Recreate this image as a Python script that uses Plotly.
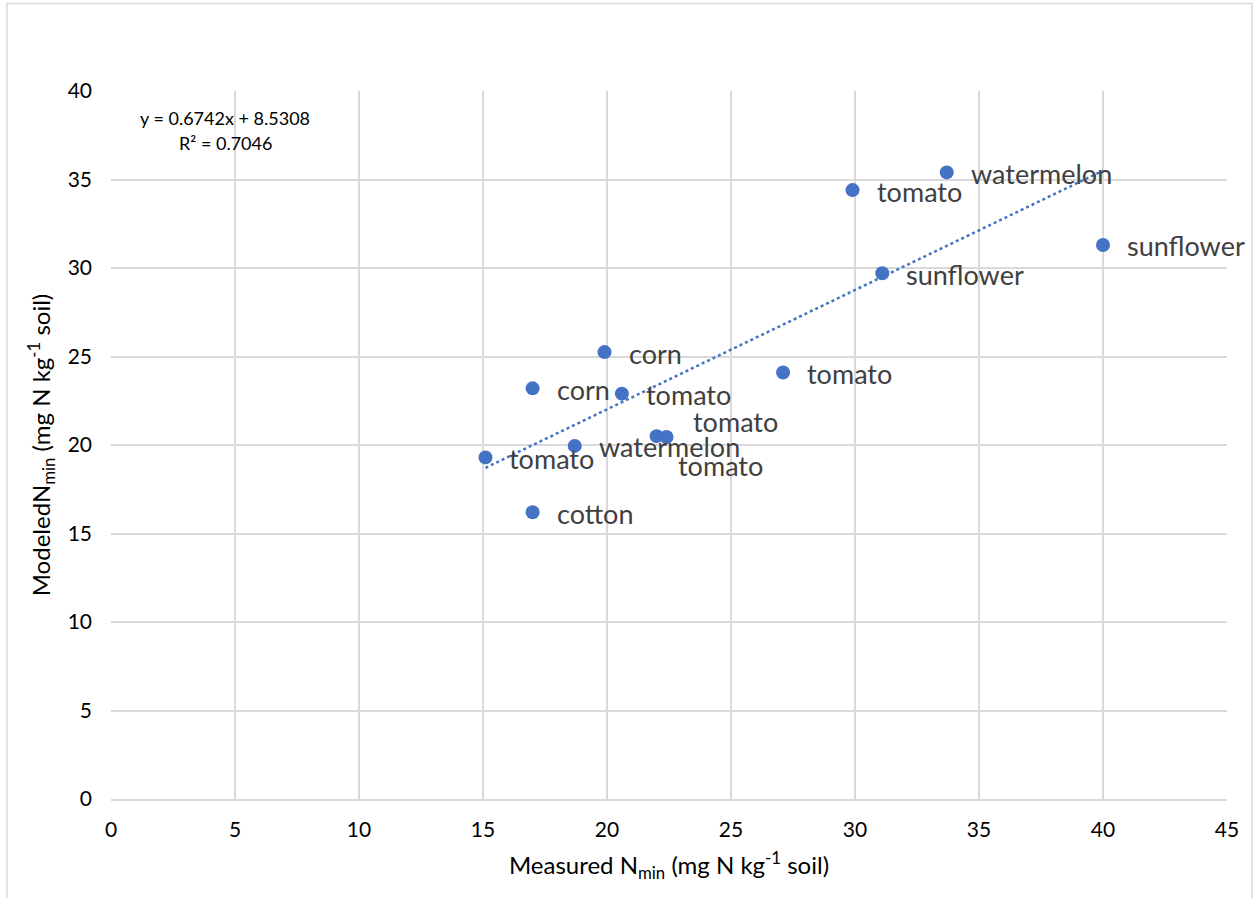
import plotly.graph_objects as go

# Data
measured = [33.7, 29.9, 40.0, 31.1, 19.9, 27.1, 17.0, 20.6, 22.0, 22.4, 18.7, 15.1, 17.0]
modeled = [35.4, 34.4, 31.3, 29.7, 25.25, 24.1, 23.2, 22.9, 20.5, 20.45, 19.95, 19.3, 16.2]
crops = ["watermelon", "tomato", "sunflower", "sunflower", "corn", "tomato", "corn",
         "tomato", "tomato", "tomato", "watermelon", "tomato", "cotton"]
slope = 0.6742
intercept = 8.5308
r2 = 0.7046
x_ticks = [0, 5, 10, 15, 20, 25, 30, 35, 40, 45]
y_ticks = [0, 5, 10, 15, 20, 25, 30, 35, 40]

FONT = "Lato"
BLUE = "#4472C4"
GRID = "#d9d9d9"

fig = go.Figure()

# trendline
x_min, x_max = min(measured), max(measured)
fig.add_trace(go.Scatter(
    x=[x_min, x_max], y=[slope * x_min + intercept, slope * x_max + intercept],
    mode="lines", line=dict(color=BLUE, width=2.5, dash="dot"),
    hoverinfo="skip", showlegend=False))

fig.add_trace(go.Scatter(
    x=measured, y=modeled, mode="markers",
    marker=dict(color=BLUE, size=14, line=dict(width=0)),
    showlegend=False))

# label offsets (pixels) — default right of point, a couple moved manually
default_shift = (22, -1)
special = {8: (34, 15), 9: (9, -28)}
annotations = []
for i, (xv, yv, name) in enumerate(zip(measured, modeled, crops)):
    xs, ys = special.get(i, default_shift)
    annotations.append(dict(x=xv, y=yv, text=name, showarrow=False, xanchor="left",
                            yanchor="middle", xshift=xs, yshift=ys,
                            font=dict(family=FONT, size=27, color="#404040")))

annotations.append(dict(x=4.6, y=38.5, text=f"y = {slope}x + {intercept}", showarrow=False,
                        xanchor="center", yanchor="middle",
                        font=dict(family=FONT, size=18, color="#000000")))
annotations.append(dict(x=4.6, y=37.05, text=f"R² = {r2}", showarrow=False,
                        xanchor="center", yanchor="middle",
                        font=dict(family=FONT, size=18, color="#000000")))

fig.update_layout(
    width=1255, height=898,
    margin=dict(l=111, r=28, t=91, b=99),
    paper_bgcolor="white", plot_bgcolor="white",
    font=dict(family=FONT, size=21, color="#000000"),
    annotations=annotations,
    shapes=[dict(type="rect", xref="paper", yref="paper",
                 x0=(7 - 111) / 1116, x1=(1252 - 111) / 1116,
                 y0=(799 - 910) / 708, y1=(799 - 3.5) / 708,
                 line=dict(color=GRID, width=1.5), fillcolor="rgba(0,0,0,0)", layer="below")],
)

fig.update_xaxes(
    range=[0, 45], tickvals=x_ticks, showgrid=True, gridcolor=GRID, gridwidth=1.5,
    zeroline=False, showline=True, linecolor=GRID, linewidth=1.5, mirror=False,
    ticks="", ticklabelstandoff=11, tickfont=dict(family=FONT, size=21),
    title=dict(text="Measured N<sub>min</sub> (mg N kg<sup>-1</sup> soil)",
               font=dict(family=FONT, size=24), standoff=17))
fig.update_yaxes(
    range=[0, 40], tickvals=y_ticks, showgrid=True, gridcolor=GRID, gridwidth=1.5,
    zeroline=False, showline=False, ticks="", ticklabelstandoff=18,
    tickfont=dict(family=FONT, size=21),
    title=dict(text="ModeledN<sub>min</sub> (mg N kg<sup>-1</sup> soil)",
               font=dict(family=FONT, size=24), standoff=10))

fig.write_html("out.html")
